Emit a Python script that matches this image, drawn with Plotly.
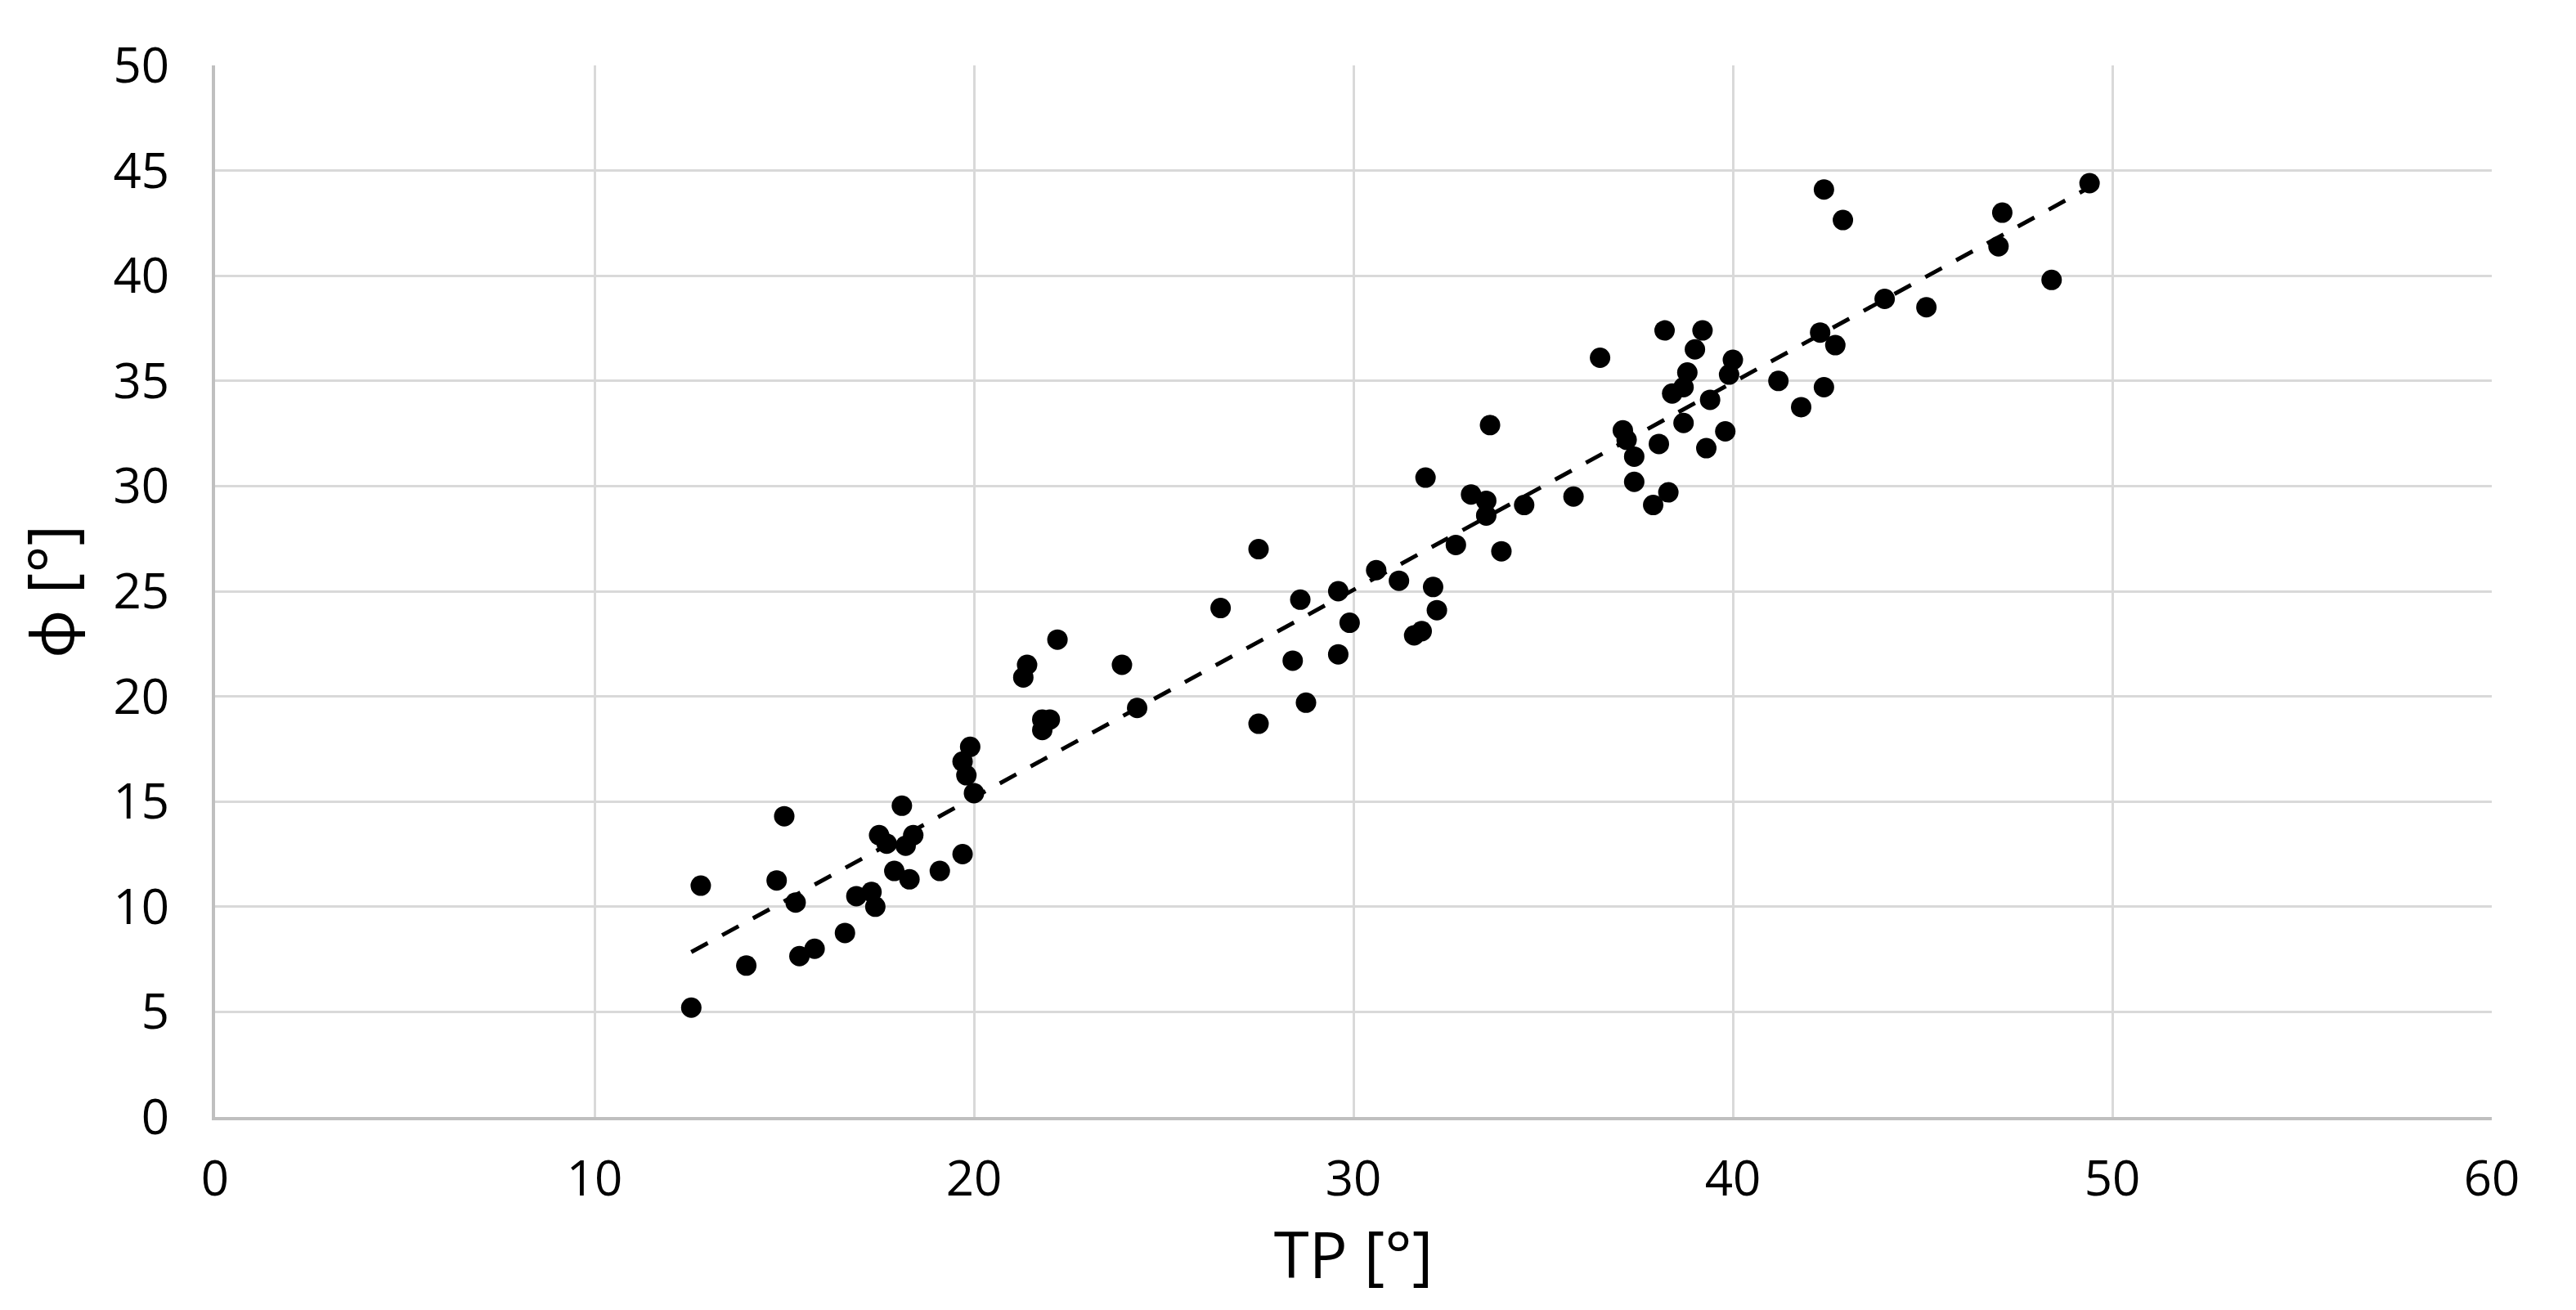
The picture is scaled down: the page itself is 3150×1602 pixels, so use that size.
import numpy as np
import plotly.graph_objects as go

tp = [12.55, 12.8, 14.0, 14.8, 15.0, 15.3, 15.4, 15.8, 16.6, 16.9, 17.3, 17.4, 17.5, 17.7,
      17.9, 18.1, 18.2, 18.3, 18.4, 19.1, 19.7, 19.7, 19.8, 19.9, 20.0, 21.3, 21.4, 21.8,
      21.8, 22.0, 22.2, 23.9, 24.3, 26.5, 27.5, 27.5, 28.4, 28.6, 28.75, 29.6, 29.6, 29.9,
      30.6, 31.2, 31.6, 31.8, 31.9, 32.1, 32.2, 32.7, 33.1, 33.5, 33.5, 33.6, 33.9, 34.5,
      35.8, 36.5, 37.1, 37.2, 37.4, 37.4, 37.9, 38.05, 38.2, 38.3, 38.4, 38.7, 38.7, 38.8,
      39.0, 39.2, 39.3, 39.4, 39.8, 39.9, 40.0, 41.2, 41.8, 42.3, 42.4, 42.4, 42.7, 42.9,
      44.0, 45.1, 47.0, 47.1, 48.4, 49.4]
phi = [5.2, 11.0, 7.2, 11.25, 14.3, 10.2, 7.65, 8.0, 8.75, 10.5, 10.7, 10.0, 13.4, 13.0,
       11.7, 14.8, 12.9, 11.3, 13.4, 11.7, 12.5, 16.9, 16.25, 17.6, 15.4, 20.9, 21.5, 18.4,
       18.9, 18.9, 22.7, 21.5, 19.45, 24.2, 27.0, 18.7, 21.7, 24.6, 19.7, 22.0, 25.0, 23.5,
       26.0, 25.5, 22.9, 23.1, 30.4, 25.2, 24.1, 27.2, 29.6, 28.6, 29.3, 32.9, 26.9, 29.1,
       29.5, 36.1, 32.65, 32.2, 31.4, 30.2, 29.1, 32.0, 37.4, 29.7, 34.4, 34.7, 33.0, 35.4,
       36.5, 37.4, 31.8, 34.1, 32.6, 35.3, 36.0, 35.0, 33.75, 37.3, 34.7, 44.1, 36.7, 42.65,
       38.9, 38.5, 41.4, 43.0, 39.8, 44.4]

x_ticks = [0, 10, 20, 30, 40, 50, 60]
y_ticks = [0, 5, 10, 15, 20, 25, 30, 35, 40, 45, 50]

slope, intercept = np.polyfit(tp, phi, 1)
x_fit = np.array([min(tp), max(tp)])
y_fit = slope * x_fit + intercept

font_family = "Open Sans, Lato, sans-serif"

fig = go.Figure()
fig.add_trace(go.Scatter(
    x=x_fit, y=y_fit, mode="lines",
    line=dict(color="black", width=5, dash="23px,20px"),
    showlegend=False, hoverinfo="skip",
))
fig.add_trace(go.Scatter(
    x=tp, y=phi, mode="markers",
    marker=dict(color="black", size=25, line=dict(width=0)),
    showlegend=False,
))

fig.update_layout(
    width=3150, height=1602,
    margin=dict(l=255, r=111, t=72, b=244),
    paper_bgcolor="white", plot_bgcolor="white",
    font=dict(family=font_family, color="black", size=60),
)
fig.update_xaxes(
    range=[0, 60], tickvals=x_ticks, ticktext=[str(v) for v in x_ticks],
    showgrid=True, gridcolor="#d9d9d9", gridwidth=3,
    showline=True, linecolor="#bfbfbf", linewidth=4,
    zeroline=False, ticks="", ticklabelstandoff=20,
    title=dict(text="TP [°]", font=dict(size=78, family=font_family), standoff=0),
    tickfont=dict(size=60),
)
fig.update_yaxes(
    range=[0, 50], tickvals=y_ticks, ticktext=[str(v) for v in y_ticks],
    showgrid=True, gridcolor="#d9d9d9", gridwidth=3,
    showline=True, linecolor="#bfbfbf", linewidth=4,
    zeroline=False, ticks="", ticklabelstandoff=40,
    title=dict(text="ϕ [°]", font=dict(size=78, family=font_family), standoff=30),
    tickfont=dict(size=60),
)

fig.write_html("out.html")
